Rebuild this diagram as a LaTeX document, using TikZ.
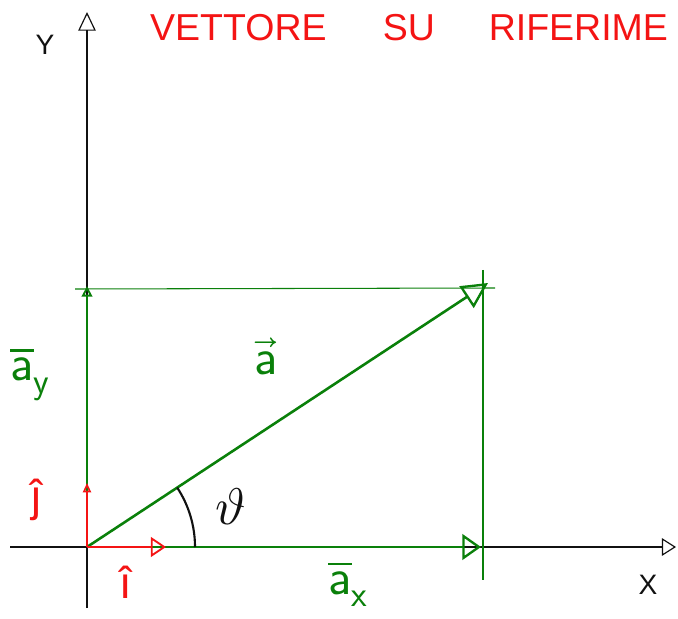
\documentclass[tikz,border=0pt]{standalone}
\usepackage{amsmath}
\usepackage{fontspec}
\usepackage{unicode-math}
\setmainfont{Liberation Sans}
\setmathfont{Latin Modern Math}
\usetikzlibrary{arrows.meta}
\definecolor{Ink}{HTML}{111111}
\definecolor{Leaf}{HTML}{0A800A}
\definecolor{Scarlet}{HTML}{F41414}
\begin{document}
\begin{tikzpicture}[x=0.03cm,y=0.03cm,
    axis/.style={draw=Ink,line width=1.1pt},
    frame/.style={draw=Leaf,line width=0.9pt},
    vecline/.style={draw=Leaf,line width=2.2pt},
    unitvec/.style={draw=Scarlet,line width=1.6pt},
    tag/.style={inner sep=0pt,font=\fontsize{44}{48}\selectfont},
    opentip/.tip={Triangle[open,length=13pt,width=17pt,line width=1.6pt]}
  ]
    \useasboundingbox (0,0) rectangle (678,618);
    \coordinate (O) at (87,71);
    \coordinate (XL) at (10,71);
    \coordinate (XR) at (676,71);
    \coordinate (YB) at (87,10);
    \coordinate (YT) at (87,606);
    \coordinate (A) at (488,335);
    \coordinate (Ax) at (481,71);
    \coordinate (Ay) at (87,332);
    \coordinate (I) at (166,71);
    \coordinate (J) at (87,135);
    \coordinate (T0) at (195,71);
    \draw[axis,-{Triangle[open,length=12pt,width=15pt,line width=1pt]}] (XL) -- (XR);
    \draw[axis,-{Triangle[open,length=16pt,width=15pt,line width=1pt]}] (YB) -- (YT);
    \draw[frame] (75,329) -- (495,330);
    \draw[frame] (483,348) -- (483,38);
    \draw[vecline,-{Triangle[open,length=22pt,width=22pt,line width=2pt]}] (O) -- (A);
    \draw[vecline,-{Triangle[open,length=16pt,width=22pt,line width=2pt]}] (O) -- (Ax);
    \draw[vecline,-{Triangle[open,length=9pt,width=9pt,line width=1.6pt]}] (O) -- (Ay);
    \draw[unitvec,-opentip] (O) -- (I);
    \draw[unitvec,-{Triangle[open,length=8pt,width=7pt,line width=1.4pt]}] (O) -- (J);
    \draw[Ink,line width=1.8pt] (T0) arc[start angle=0,end angle=33.4,radius=108];
    \node[tag,Scarlet,anchor=west,font=\fontsize{32}{36}\selectfont] (lblTitle) at (150,590) {VETTORE\hspace{48pt}SU\hspace{46pt}RIFERIME};
    \node[tag,Ink,font=\fontsize{24}{28}\selectfont] (lblY) at (45,573) {Y};
    \node[tag,Ink,font=\fontsize{24}{28}\selectfont] (lblX) at (648,33) {X};
    \node[tag,Leaf] (lblA) at (266,262) {$\vec{\mathsf{a}}$};
    \node[tag,Leaf] (lblAy) at (30,244) {$\overline{\mathsf{a}}_{\mathsf{y}}$};
    \node[tag,Leaf] (lblAx) at (348,34) {$\overline{\mathsf{a}}_{\mathsf{x}}$};
    \node[tag,Scarlet,font=\fontsize{38}{42}\selectfont] (lblJ) at (36,118) {ĵ};
    \node[tag,Scarlet,font=\fontsize{38}{42}\selectfont] (lblI) at (126,36) {î};
    \node[tag,Ink] (lblTheta) at (231,111) {$\vartheta$};
  \end{tikzpicture}
\end{document}
